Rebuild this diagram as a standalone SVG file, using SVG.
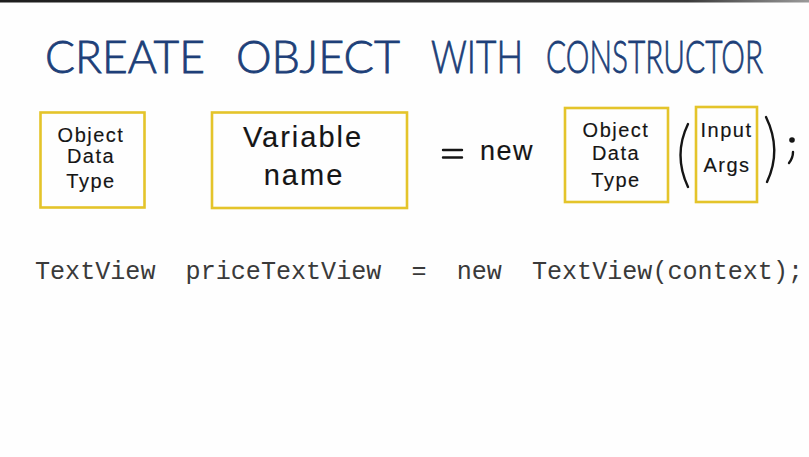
<svg xmlns="http://www.w3.org/2000/svg" width="809" height="457" viewBox="0 0 809 457">
  <defs>
    <linearGradient id="topbar" x1="0" y1="0" x2="1" y2="0">
      <stop offset="0" stop-color="#1e1e1e"/>
      <stop offset="0.85" stop-color="#3a3a3a"/>
      <stop offset="1" stop-color="#9a9a9a"/>
    </linearGradient>
    <style>
      .title { font-family: Lato, "Liberation Sans", Arial, sans-serif; font-weight: 300; font-size: 34px; fill: #1d3f78; stroke: #1d3f78; stroke-width: 0.6; }
      .box { fill: none; stroke: #e4c42a; stroke-width: 2.6; }
      .hand { font-family: "Liberation Sans", Arial, sans-serif; fill: #151515; stroke: #151515; stroke-width: 0.15; text-anchor: middle; }
      .small { font-size: 20px; letter-spacing: 1.5px; }
      .big { font-size: 29px; letter-spacing: 2px; }
      .code { font-family: "Liberation Mono", "Courier New", monospace; font-size: 25.1px; fill: #3a3a3a; }
      .ink { fill: none; stroke: #151515; stroke-width: 2.4; stroke-linecap: round; }
    </style>
  </defs>

  <rect x="0" y="0" width="809" height="457" fill="#fefefe"/>
  <rect x="0" y="0" width="809" height="2.5" fill="url(#topbar)"/>

  <!-- heading, one word at a time, stretched tall -->
  <g id="heading">
    <text class="title" transform="translate(45 73) scale(1 1.35)" textLength="160" lengthAdjust="spacingAndGlyphs">CREATE</text>
    <text class="title" transform="translate(236 73) scale(1 1.35)" textLength="164" lengthAdjust="spacingAndGlyphs">OBJECT</text>
    <text class="title" transform="translate(431 73) scale(1 1.35)" textLength="92" lengthAdjust="spacingAndGlyphs">WITH</text>
    <text class="title" transform="translate(546 73) scale(1 1.35)" textLength="217" lengthAdjust="spacingAndGlyphs">CONSTRUCTOR</text>
  </g>

  <!-- declared type -->
  <g id="decl-type">
    <rect class="box" x="40.5" y="112.5" width="104" height="95"/>
    <text class="hand small" x="91" y="142">Object</text>
    <text class="hand small" x="91" y="163">Data</text>
    <text class="hand small" x="91" y="188">Type</text>
  </g>

  <!-- variable name -->
  <g id="var-name">
    <rect class="box" x="212" y="112.5" width="195" height="95.5"/>
    <text class="hand big" x="303" y="147">Variable</text>
    <text class="hand big" x="304" y="185">name</text>
  </g>

  <!-- assignment with new -->
  <g id="assign-new">
    <path class="ink" d="M443 150 L462 150 M443 157.5 L462 157.5"/>
    <text class="hand" x="507" y="160" font-size="27" letter-spacing="1.5">new</text>
  </g>

  <!-- constructed type -->
  <g id="ctor-type">
    <rect class="box" x="565" y="108" width="103" height="94"/>
    <text class="hand small" x="616" y="137">Object</text>
    <text class="hand small" x="616" y="160">Data</text>
    <text class="hand small" x="616" y="187">Type</text>
  </g>

  <!-- constructor arguments -->
  <g id="ctor-args">
    <rect class="box" x="696" y="107" width="61" height="95"/>
    <text class="hand small" x="726.5" y="137" letter-spacing="1">Input</text>
    <text class="hand small" x="727" y="172" letter-spacing="1">Args</text>
  </g>

  <!-- brackets and semicolon -->
  <g id="punct">
    <path class="ink" d="M688 124 Q673 155 688 187"/>
    <path class="ink" d="M766 117 Q782 150 767 182"/>
    <circle cx="792" cy="140" r="2.8" fill="#151515"/>
    <path class="ink" d="M793 152 Q793 158 789 163" stroke-width="3"/>
  </g>

  <!-- code example -->
  <text class="code" x="35" y="279" xml:space="preserve">TextView  priceTextView  =  new  TextView(context);</text>
</svg>
